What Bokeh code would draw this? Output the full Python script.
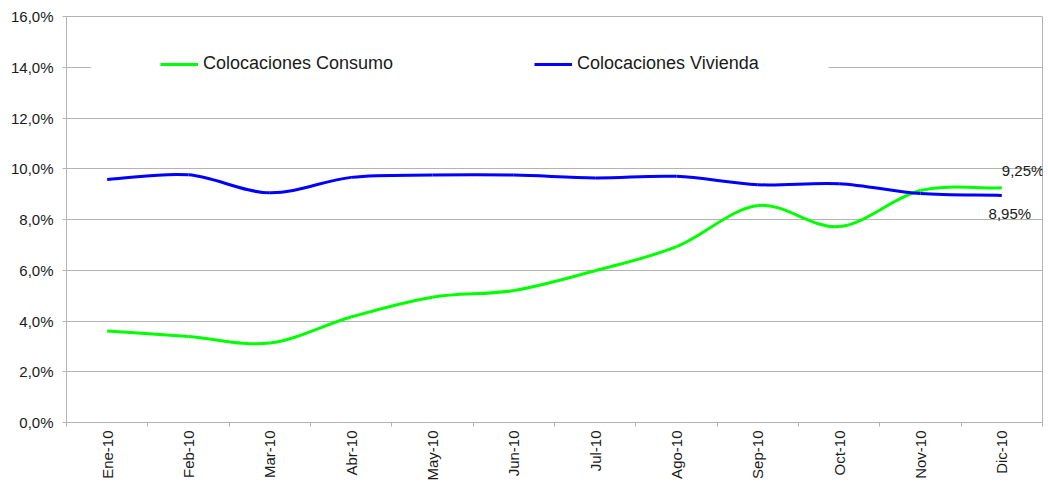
import math
import numpy as np
from bokeh.plotting import figure
from bokeh.models import (Range1d, FixedTicker, ColumnDataSource, Label, BoxAnnotation)
from bokeh.embed import file_html
from bokeh.resources import INLINE

# ---- data ----
months = ["Ene-10", "Feb-10", "Mar-10", "Abr-10", "May-10", "Jun-10",
          "Jul-10", "Ago-10", "Sep-10", "Oct-10", "Nov-10", "Dic-10"]
consumo = [3.61, 3.39, 3.13, 4.16, 4.94, 5.20, 5.98, 6.93, 8.55, 7.72, 9.14, 9.25]
vivienda = [9.58, 9.76, 9.05, 9.66, 9.75, 9.75, 9.64, 9.70, 9.37, 9.41, 9.02, 8.95]
y_ticks = [0, 2, 4, 6, 8, 10, 12, 14, 16]
y_tick_labels = ["0,0%", "2,0%", "4,0%", "6,0%", "8,0%", "10,0%", "12,0%", "14,0%", "16,0%"]

FONT = "Liberation Sans"
TXT = "#1a1a1a"
GRID = "#b3b3b3"


def smooth_segments(vals):
    """Bezier segments of a Catmull-Rom curve through the points (smoothed line style)."""
    y = np.asarray(vals, dtype=float)
    n = len(y)
    x = np.arange(n, dtype=float)
    d = np.zeros(n)
    d[1:-1] = (y[2:] - y[:-2]) / 2
    d[0] = y[1] - y[0]
    d[-1] = y[-1] - y[-2]
    return dict(x0=x[:-1], y0=y[:-1], x1=x[1:], y1=y[1:],
                cx0=x[:-1] + 1 / 3, cy0=y[:-1] + d[:-1] / 3,
                cx1=x[1:] - 1 / 3, cy1=y[1:] - d[1:] / 3)


p = figure(width=1048, height=483, output_backend="svg", toolbar_location=None,
           x_range=Range1d(-0.5, len(months) - 0.5), y_range=Range1d(0, 16),
           min_border_left=66, min_border_right=6, min_border_top=16, min_border_bottom=61)
p.background_fill_color = "white"
p.border_fill_color = "white"
p.outline_line_color = GRID
p.outline_line_width = 1

# y axis
p.yaxis.ticker = FixedTicker(ticks=y_ticks, minor_ticks=[])
p.yaxis.major_label_overrides = {t: l for t, l in zip(y_ticks, y_tick_labels)}
p.yaxis.axis_line_color = GRID
p.yaxis.major_tick_line_color = GRID
p.yaxis.major_tick_in = 0
p.yaxis.major_tick_out = 4
p.yaxis.major_label_standoff = 9
p.yaxis.major_label_text_font = FONT
p.yaxis.major_label_text_font_size = "15px"
p.yaxis.major_label_text_color = TXT

# x axis
p.xaxis.ticker = FixedTicker(ticks=list(range(len(months))),
                             minor_ticks=[i - 0.5 for i in range(len(months) + 1)])
p.xaxis.major_label_overrides = {i: m for i, m in enumerate(months)}
p.xaxis.major_label_orientation = math.pi / 2
p.xaxis.axis_line_color = GRID
p.xaxis.major_tick_in = 0
p.xaxis.major_tick_out = 0
p.xaxis.minor_tick_in = 0
p.xaxis.minor_tick_out = 4
p.xaxis.minor_tick_line_color = GRID
p.xaxis.major_label_standoff = 4
p.xaxis.major_label_text_font = FONT
p.xaxis.major_label_text_font_size = "15px"
p.xaxis.major_label_text_color = TXT

p.xgrid.visible = False
p.ygrid.grid_line_color = GRID
p.ygrid.grid_line_width = 1

# legend background (hides the gridline behind the legend)
p.add_layout(BoxAnnotation(left=-0.2, right=8.87, bottom=13.3, top=14.7,
                           fill_color="white", fill_alpha=1.0, line_alpha=0))

src_c = ColumnDataSource(smooth_segments(consumo))
src_v = ColumnDataSource(smooth_segments(vivienda))
p.bezier(x0="x0", y0="y0", x1="x1", y1="y1", cx0="cx0", cy0="cy0", cx1="cx1", cy1="cy1",
         source=src_c, line_color="#00ff00", line_width=3, legend_label="Colocaciones Consumo")
p.bezier(x0="x0", y0="y0", x1="x1", y1="y1", cx0="cx0", cy0="cy0", cx1="cx1", cy1="cy1",
         source=src_v, line_color="#0000ff", line_width=3, legend_label="Colocaciones Vivienda")

lg = p.legend[0]
lg.orientation = "horizontal"
lg.location = (89, 343)
lg.background_fill_alpha = 0
lg.border_line_alpha = 0
lg.padding = 5
lg.spacing = 0
lg.margin = 0
lg.glyph_width = 38
lg.glyph_height = 20
lg.label_height = 20
lg.label_width = 331
lg.label_standoff = 5
lg.label_text_font = FONT
lg.label_text_font_size = "18px"
lg.label_text_color = TXT

# end-point data labels
def fmt(v):
    return f"{v:.2f}%".replace(".", ",")

p.add_layout(Label(x=len(consumo) - 1, y=consumo[-1], text=fmt(consumo[-1]),
                   x_offset=0, y_offset=17, text_align="left", text_baseline="alphabetic",
                   text_font=FONT, text_font_size="15px", text_color=TXT))
p.add_layout(Label(x=len(vivienda) - 1, y=vivienda[-1], text=fmt(vivienda[-1]),
                   x_offset=8, y_offset=-18, text_align="center", text_baseline="alphabetic",
                   text_font=FONT, text_font_size="15px", text_color=TXT))

open("out.html", "w").write(file_html(p, INLINE))
